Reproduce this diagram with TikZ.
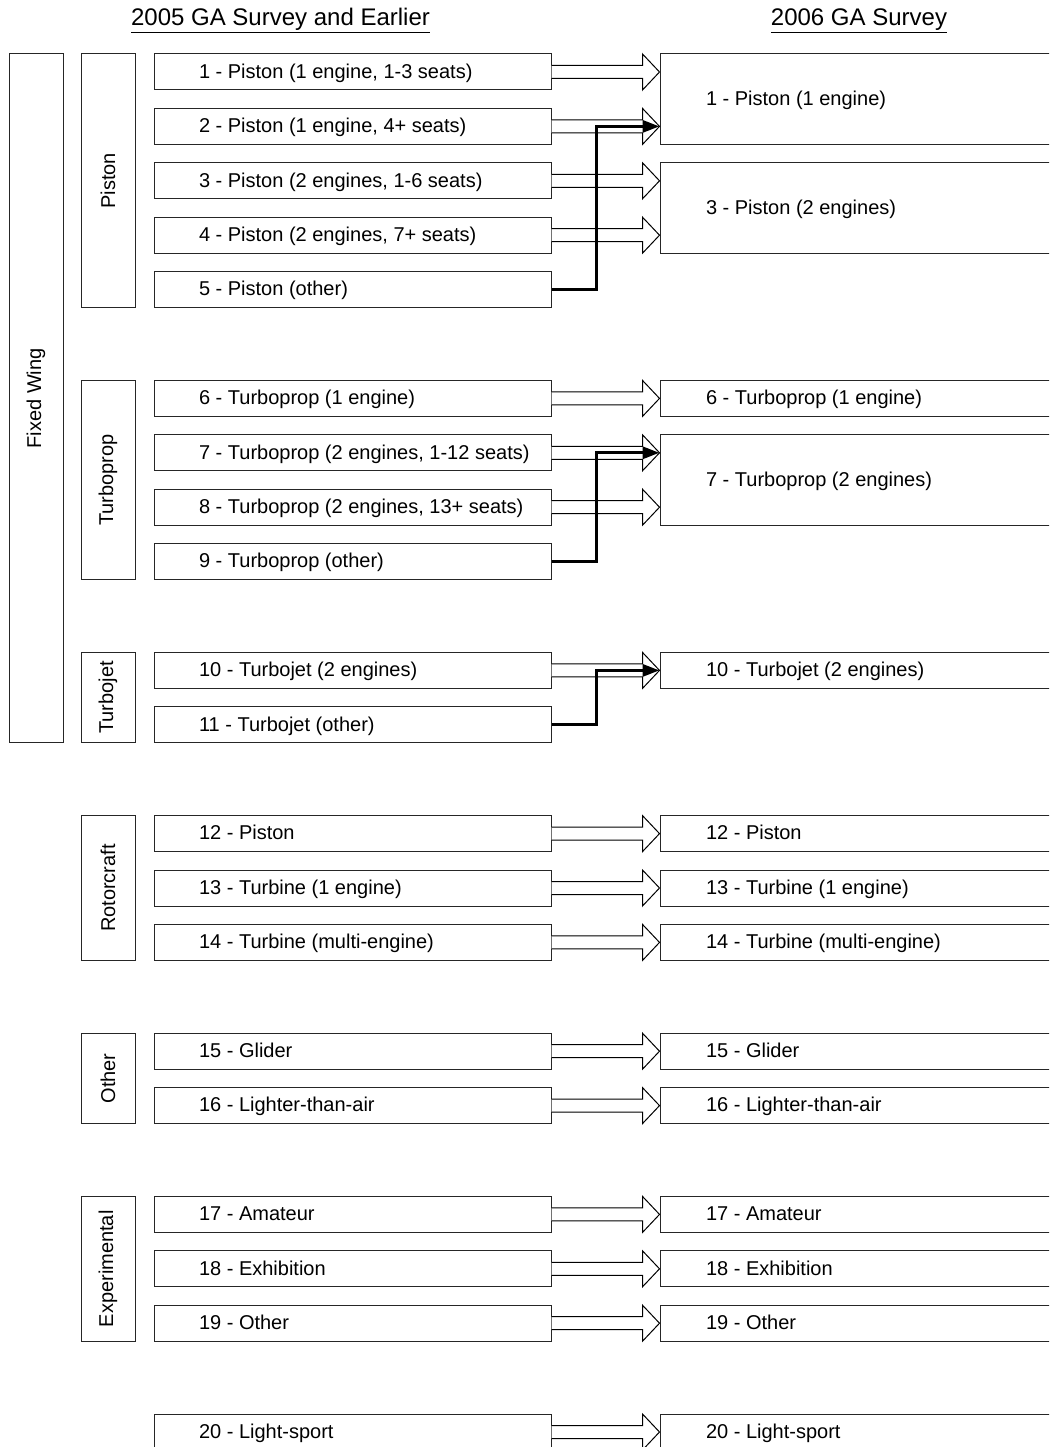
\documentclass[tikz,border=0pt]{standalone}
\usepackage{fontspec}
\setmainfont{Liberation Sans}
\usetikzlibrary{arrows.meta,calc}
\begin{document}
\begin{tikzpicture}[x=1pt,y=-1pt,
  every node/.style={font=\fontsize{20}{24}\selectfont},
  lbox/.style={draw=black!85, line width=1pt, fill=white, minimum width=397pt,
    minimum height=36pt, text width=375pt, inner xsep=11pt, inner ysep=0pt,
    text height=13pt, text depth=0.4pt,
    align=flush left, execute at begin node={\hspace*{34pt}}},
  rbox/.style={draw=black!85, line width=1pt, fill=white, minimum width=400pt,
    minimum height=36pt, text width=378pt, inner xsep=11pt, inner ysep=0pt,
    text height=13pt, text depth=0.4pt,
    align=flush left, execute at begin node={\hspace*{35pt}}},
  cbox/.style={draw=black!85, line width=1pt, rotate=90, minimum height=54pt, inner sep=0pt},
  titletext/.style={anchor=base, font=\fontsize{24}{28}\selectfont},
  hollow/.style={draw=black, line width=1pt, fill=white,
    to path={let \p1=(\tikztostart), \p2=(\tikztotarget) in
      (\x1,\y1+6.5pt) -- (\x2-17pt,\y1+6.5pt) -- (\x2-17pt,\y1+18pt) -- (\x2,\y1)
      -- (\x2-17pt,\y1-18pt) -- (\x2-17pt,\y1-6.5pt) -- (\x1,\y1-6.5pt)}},
  merge/.style={line width=3.3pt, draw=black, -{Triangle[length=17pt,width=12pt]}}
]
\useasboundingbox (0,0) rectangle (1049,1447);
\clip (0,0) rectangle (1049,1447);

% titles
\node[titletext] (t1) at (280.5,26) {\underline{2005 GA Survey and Earlier}};
\node[titletext] (t2) at (859,26) {\underline{2006 GA Survey}};

% category boxes
\node[cbox, minimum width=688.8pt] (fw) at (36,398.4) {Fixed Wing};
\node[cbox, minimum width=253.6pt] (cpis) at (108,180.8) {Piston};
\node[cbox, minimum width=199.2pt] (ctp) at (108,480) {Turboprop};
\node[cbox, minimum width=90.4pt] (ctj) at (108,697.6) {Turbojet};
\node[cbox, minimum width=144.8pt] (crc) at (108,888) {Rotorcraft};
\node[cbox, minimum width=90.4pt] (cot) at (108,1078.4) {Other};
\node[cbox, minimum width=144.8pt] (cex) at (108,1268.8) {Experimental};

% left boxes
\node[lbox] (l1) at (352.5,72) {1 - Piston (1 engine, 1-3 seats)};
\node[lbox] (l2) at (352.5,126.4) {2 - Piston (1 engine, 4+ seats)};
\node[lbox] (l3) at (352.5,180.8) {3 - Piston (2 engines, 1-6 seats)};
\node[lbox] (l4) at (352.5,235.2) {4 - Piston (2 engines, 7+ seats)};
\node[lbox] (l5) at (352.5,289.6) {5 - Piston (other)};
\node[lbox] (l6) at (352.5,398.4) {6 - Turboprop (1 engine)};
\node[lbox] (l7) at (352.5,452.8) {7 - Turboprop (2 engines, 1-12 seats)};
\node[lbox] (l8) at (352.5,507.2) {8 - Turboprop (2 engines, 13+ seats)};
\node[lbox] (l9) at (352.5,561.6) {9 - Turboprop (other)};
\node[lbox] (l10) at (352.5,670.4) {10 - Turbojet (2 engines)};
\node[lbox] (l11) at (352.5,724.8) {11 - Turbojet (other)};
\node[lbox] (l12) at (352.5,833.6) {12 - Piston};
\node[lbox] (l13) at (352.5,888) {13 - Turbine (1 engine)};
\node[lbox] (l14) at (352.5,942.4) {14 - Turbine (multi-engine)};
\node[lbox] (l15) at (352.5,1051.2) {15 - Glider};
\node[lbox] (l16) at (352.5,1105.6) {16 - Lighter-than-air};
\node[lbox] (l17) at (352.5,1214.4) {17 - Amateur};
\node[lbox] (l18) at (352.5,1268.8) {18 - Exhibition};
\node[lbox] (l19) at (352.5,1323.2) {19 - Other};
\node[lbox] (l20) at (352.5,1432) {20 - Light-sport};

% right boxes
\node[rbox, minimum height=90.4pt] (r1) at (860,99.2) {1 - Piston (1 engine)};
\node[rbox, minimum height=90.4pt] (r3) at (860,208) {3 - Piston (2 engines)};
\node[rbox] (r6) at (860,398.4) {6 - Turboprop (1 engine)};
\node[rbox, minimum height=90.4pt] (r7) at (860,480) {7 - Turboprop (2 engines)};
\node[rbox] (r10) at (860,670.4) {10 - Turbojet (2 engines)};
\node[rbox] (r12) at (860,833.6) {12 - Piston};
\node[rbox] (r13) at (860,888) {13 - Turbine (1 engine)};
\node[rbox] (r14) at (860,942.4) {14 - Turbine (multi-engine)};
\node[rbox] (r15) at (860,1051.2) {15 - Glider};
\node[rbox] (r16) at (860,1105.6) {16 - Lighter-than-air};
\node[rbox] (r17) at (860,1214.4) {17 - Amateur};
\node[rbox] (r18) at (860,1268.8) {18 - Exhibition};
\node[rbox] (r19) at (860,1323.2) {19 - Other};
\node[rbox] (r20) at (860,1432) {20 - Light-sport};

% hollow arrows
\draw[hollow] (l1.east) to (l1.east -| r1.west);
\draw[hollow] (l2.east) to (l2.east -| r1.west);
\draw[hollow] (l3.east) to (l3.east -| r3.west);
\draw[hollow] (l4.east) to (l4.east -| r3.west);
\draw[hollow] (l6.east) to (r6.west);
\draw[hollow] (l7.east) to (l7.east -| r7.west);
\draw[hollow] (l8.east) to (l8.east -| r7.west);
\draw[hollow] (l10.east) to (r10.west);
\draw[hollow] (l12.east) to (r12.west);
\draw[hollow] (l13.east) to (r13.west);
\draw[hollow] (l14.east) to (r14.west);
\draw[hollow] (l15.east) to (r15.west);
\draw[hollow] (l16.east) to (r16.west);
\draw[hollow] (l17.east) to (r17.west);
\draw[hollow] (l18.east) to (r18.west);
\draw[hollow] (l19.east) to (r19.west);
\draw[hollow] (l20.east) to (r20.west);

% merge arrows
\draw[merge] (l5.east) -- ++(45,0) |- (l2.east -| r1.west);
\draw[merge] (l9.east) -- ++(45,0) |- (l7.east -| r7.west);
\draw[merge] (l11.east) -- ++(45,0) |- (l10.east -| r10.west);
\end{tikzpicture}
\end{document}
